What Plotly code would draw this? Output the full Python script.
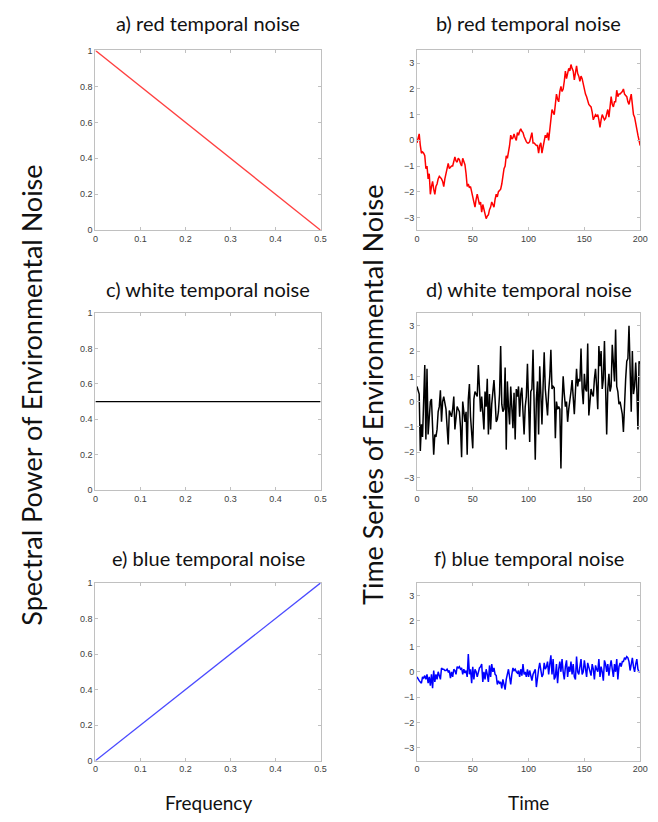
import plotly.graph_objects as go

# ---------------- data ----------------
freq = [0.0, 0.5]
power_red = [1.0, 0.0]
power_white = [0.5, 0.5]
power_blue = [0.0, 1.0]

time = list(range(0, 201))

red_series = [
    -0.1, 0.1, 0.25, -0.2, -0.5, -0.45, -0.5, -0.6, -1.1, -1.0,
    -1.5, -1.3, -2.1, -1.8, -1.6, -1.9, -2.1, -1.8, -1.7, -1.5,
    -1.4, -1.45, -1.5, -1.6, -1.8, -1.5, -1.3, -1.2, -0.9, -1.1,
    -1.05, -1.0, -1.0, -0.85, -0.65, -0.8, -0.85, -0.7, -0.75, -0.9,
    -1.0, -0.7, -0.85, -0.95, -1.3, -1.8, -1.7, -1.85, -1.8, -2.0,
    -2.1, -2.3, -2.6, -2.3, -2.1, -2.3, -2.5, -2.4, -2.8, -2.5,
    -2.7, -2.9, -3.05, -2.95, -2.9, -2.7, -2.6, -2.4, -2.5, -2.6,
    -2.3, -2.1, -2.2, -2.0, -1.95, -1.9, -1.7, -1.4, -1.1, -1.0,
    -0.6, -0.7, -0.5, -0.2, 0.2, 0.05, 0.1, 0.25, 0.1, 0.0,
    0.3, 0.2, 0.35, 0.45, 0.35, 0.3, 0.15, 0.0, -0.05, -0.1,
    -0.1, -0.05, 0.1, 0.3, -0.1, -0.1, -0.15, -0.2, -0.2, -0.5,
    -0.2, -0.1, -0.5, -0.2, 0.0, 0.2, 0.1, 0.3, 0.0, 0.4,
    0.8, 1.2, 1.1, 1.0, 1.4, 1.8, 1.6, 1.5, 1.9, 2.1,
    1.9, 2.0, 2.3, 2.7, 2.4, 2.6, 2.8, 2.7, 2.95, 2.8,
    2.7, 2.35, 2.6, 2.9, 2.6, 2.5, 2.3, 2.5, 2.4, 2.2,
    1.9, 1.8, 1.7, 1.5, 1.4, 1.35, 1.3, 1.1, 0.8, 0.9,
    1.0, 0.95, 1.0, 0.8, 0.5, 0.8, 1.0, 0.9, 0.8, 0.85,
    1.0, 1.2, 0.9, 1.3, 1.7, 1.4, 1.3, 1.5, 1.5, 1.95,
    1.7, 1.8, 1.8, 1.85, 1.9, 2.0, 1.8, 1.75, 1.7, 1.5,
    1.4, 1.6, 1.8, 1.4, 1.0, 0.9, 0.6, 0.5, 0.2, 0.0,
    -0.2,
]

white_series = [
    0.6, 0.45, 0.3, -1.95, -0.9, -1.4, -0.3, 1.45, -1.5, 1.3,
    -1.3, -0.6, 0.0, 0.1, -0.9, -2.1, -1.3, -1.4, -1.1, -0.4,
    -0.2, 0.45, -0.8, 0.0, 0.2, -0.1, -0.3, -1.0, -1.7, -0.35,
    -0.5, -0.6, -0.3, 0.2, -1.1, -0.5, -0.2, -0.3, -0.4, -1.0,
    -2.2, 0.0, -0.3, -0.8, -0.4, -2.1, 0.1, 0.7, -0.6, -1.2,
    -1.85, 0.1, 0.4, 0.3, 0.2, 1.45, 0.5, -0.4, 0.2, -0.3,
    -1.1, 0.4, -0.2, 0.9, -1.3, 0.3, -1.1, -0.1, 0.4, 0.85,
    0.1, -0.8, -0.7, -0.4, 0.3, 2.2, -0.1, -0.4, -0.3, 1.35,
    -1.9, 0.8, -0.2, -0.9, 0.6, -0.3, -1.05, 0.35, -1.5, 0.5,
    0.2, 0.6, -0.6, 0.3, 0.55, -0.4, -1.3, -0.2, 0.2, 1.5,
    0.0, -1.6, 0.4, 0.5, 2.05, 0.2, -2.3, 0.1, 0.8, -1.3,
    1.4, 0.3, -0.9, 0.6, 1.95, 0.5, 0.1, -0.55, 0.4, 1.0,
    2.05, 0.5, 0.6, 0.55, -1.45, 0.0, -0.3, -0.2, -0.3, -2.65,
    -0.1, 1.0, 0.3, -0.2, 0.0, -0.8, -0.3, 0.2, 0.4, 0.85,
    0.1, -0.5, 0.4, 1.3, 0.6, 0.9, 0.8, 2.1, 0.5, -0.1,
    1.1, 0.5, 0.4, 2.3, -0.55, 0.2, 0.5, 0.3, 0.2, 0.9,
    1.3, 0.6, -0.3, 2.2, 1.4, 2.0, 0.5, 0.9, 2.4, 0.6,
    -1.3, 0.5, 1.1, 0.4, 0.6, 2.25, 1.2, 0.8, 2.85, 0.6,
    0.4, -0.1, 0.0, -0.2, -0.5, -1.2, 0.2, 0.9, 1.6, 1.7,
    3.0, 1.2, -0.4, 2.0, 0.3, 0.6, 1.55, 0.5, -1.1, 1.6,
    1.5,
]

blue_series = [
    -0.2, -0.3, -0.35, -0.4, -0.45, -0.2, -0.25, -0.15, -0.3, -0.1,
    -0.45, -0.2, -0.55, -0.1, -0.65, 0.05, -0.4, -0.1, -0.3, 0.0,
    -0.2, -0.3, 0.15, 0.1, 0.1, 0.05, 0.05, 0.1, 0.0, 0.05,
    -0.25, 0.0, -0.2, 0.1, 0.05, -0.1, 0.2, 0.15, 0.2, 0.1,
    0.15, -0.1, 0.1, -0.05, 0.05, -0.2, 0.7, -0.1, 0.1, -0.45,
    0.2, -0.3, 0.1, 0.0, -0.2, 0.05, 0.15, 0.2, 0.3, -0.4,
    0.0, -0.3, 0.1, -0.1, -0.4, 0.25, -0.2, 0.3, 0.0, 0.15,
    -0.1, -0.15, -0.5, -0.35, -0.45, -0.4, -0.65, -0.3, -0.5, -0.7,
    -0.3, 0.0, 0.1, -0.2, -0.5, -0.1, 0.15, 0.05, 0.1, 0.0,
    -0.05, 0.05, -0.2, 0.1, -0.15, 0.3, -0.1, 0.0, -0.2, 0.1,
    -0.2, 0.05, -0.1, -0.35, -0.1, 0.0, 0.1, -0.6, -0.15, 0.1,
    0.35, 0.0, -0.2, -0.1, 0.35, 0.1, 0.2, 0.4, -0.1, 0.3,
    0.65, -0.1, 0.5, -0.3, -0.2, 0.3, -0.45, 0.1, 0.4, 0.0,
    0.5, 0.0, -0.3, 0.2, 0.45, -0.2, 0.2, 0.0, 0.4, -0.1,
    0.3, -0.2, -0.3, 0.6, 0.0, -0.1, 0.3, 0.5, -0.1, 0.0,
    0.45, 0.2, -0.2, 0.35, 0.2, 0.0, -0.15, 0.3, 0.1, -0.3,
    0.25, 0.1, 0.0, 0.5, -0.2, 0.2, 0.0, -0.35, 0.45, 0.3,
    0.0, 0.3, -0.15, 0.2, 0.45, 0.1, -0.2, 0.3, 0.0, 0.5,
    -0.3, 0.2, 0.35, 0.2, 0.4, 0.4, 0.55, 0.5, 0.6, 0.55,
    0.4, 0.05, 0.3, 0.55, 0.2, 0.0, 0.3, 0.5, 0.1, 0.0,
    0.0,
]

freq_ticks = [0, 0.1, 0.2, 0.3, 0.4, 0.5]
freq_ticktext = ["0", "0.1", "0.2", "0.3", "0.4", "0.5"]
power_ticks = [0, 0.2, 0.4, 0.6, 0.8, 1]
power_ticktext = ["0", "0.2", "0.4", "0.6", "0.8", "1"]
time_ticks = [0, 50, 100, 150, 200]
series_ticks = [-3, -2, -1, 0, 1, 2, 3]

titles = ["a) red temporal noise", "b) red temporal noise",
          "c) white temporal noise", "d) white temporal noise",
          "e) blue temporal noise", "f) blue temporal noise"]

# ---------------- layout helpers ----------------
W, H = 658, 822


def px_x(a, b):
    return [a / W, b / W]


def px_y(top, bottom):
    return [1 - bottom / H, 1 - top / H]


left_dom = px_x(94, 323)
right_dom = px_x(421, 648)
rows = [px_y(46, 228), px_y(312, 491), px_y(585, 765)]

fig = go.Figure()

spec_colors = ["#ff4040", "#000000", "#4a4aff"]
ts_colors = ["#ff0000", "#000000", "#0000ff"]
spec_data = [power_red, power_white, power_blue]
ts_data = [red_series, white_series, blue_series]

axis_common = dict(
    showline=True, linecolor="#c0c0c0", linewidth=1, mirror="ticks",
    ticks="inside", ticklen=3, tickcolor="#c0c0c0", showgrid=False,
    zeroline=False, tickfont=dict(family="Liberation Sans", size=9, color="#404040"),
)

layout_axes = {}
for i in range(3):
    xl = 2 * i + 1
    xr = 2 * i + 2
    fig.add_trace(go.Scatter(x=freq, y=spec_data[i], mode="lines",
                             line=dict(color=spec_colors[i], width=1.3),
                             xaxis=f"x{xl}", yaxis=f"y{xl}", showlegend=False))
    fig.add_trace(go.Scatter(x=time, y=ts_data[i], mode="lines",
                             line=dict(color=ts_colors[i], width=1.5),
                             xaxis=f"x{xr}", yaxis=f"y{xr}", showlegend=False))
    layout_axes[f"xaxis{xl}"] = dict(domain=left_dom, range=[0, 0.5], anchor=f"y{xl}",
                                     tickvals=freq_ticks, ticktext=freq_ticktext, **axis_common)
    layout_axes[f"yaxis{xl}"] = dict(domain=rows[i], range=[0, 1], anchor=f"x{xl}",
                                     tickvals=power_ticks, ticktext=power_ticktext, **axis_common)
    layout_axes[f"xaxis{xr}"] = dict(domain=right_dom, range=[0, 200], anchor=f"y{xr}",
                                     tickvals=time_ticks, **axis_common)
    layout_axes[f"yaxis{xr}"] = dict(domain=rows[i], range=[-3.5, 3.5], anchor=f"x{xr}",
                                     tickvals=series_ticks, **axis_common)

fig.update_layout(**layout_axes)

title_font = dict(family="Lato", size=20, color="#111111")
annotations = []
title_y_px = [18, 288, 560]
for i in range(3):
    for j, dom in enumerate([left_dom, right_dom]):
        annotations.append(dict(
            text=titles[2 * i + j], xref="paper", yref="paper",
            x=(dom[0] + dom[1]) / 2, y=1 - title_y_px[i] / H,
            showarrow=False, font=title_font, xanchor="center", yanchor="middle"))

big_font = dict(family="Lato", size=27, color="#111111")
annotations.append(dict(text="Spectral Power of Environmental Noise", xref="paper", yref="paper",
                        x=29 / W, y=1 - 395 / H, textangle=-90, showarrow=False,
                        font=big_font, xanchor="center", yanchor="middle"))
annotations.append(dict(text="Time Series of Environmental Noise", xref="paper", yref="paper",
                        x=375 / W, y=1 - 395 / H, textangle=-90, showarrow=False,
                        font=big_font, xanchor="center", yanchor="middle"))
lab_font = dict(family="Lato", size=19, color="#111111")
annotations.append(dict(text="Frequency", xref="paper", yref="paper",
                        x=(left_dom[0] + left_dom[1]) / 2, y=1 - 807 / H, showarrow=False,
                        font=lab_font, xanchor="center", yanchor="middle"))
annotations.append(dict(text="Time", xref="paper", yref="paper",
                        x=(right_dom[0] + right_dom[1]) / 2, y=1 - 807 / H, showarrow=False,
                        font=lab_font, xanchor="center", yanchor="middle"))

fig.update_layout(
    width=W, height=H, margin=dict(l=0, r=0, t=0, b=0),
    paper_bgcolor="white", plot_bgcolor="white",
    annotations=annotations, showlegend=False,
)

fig.write_html("out.html", config={"displayModeBar": False})
